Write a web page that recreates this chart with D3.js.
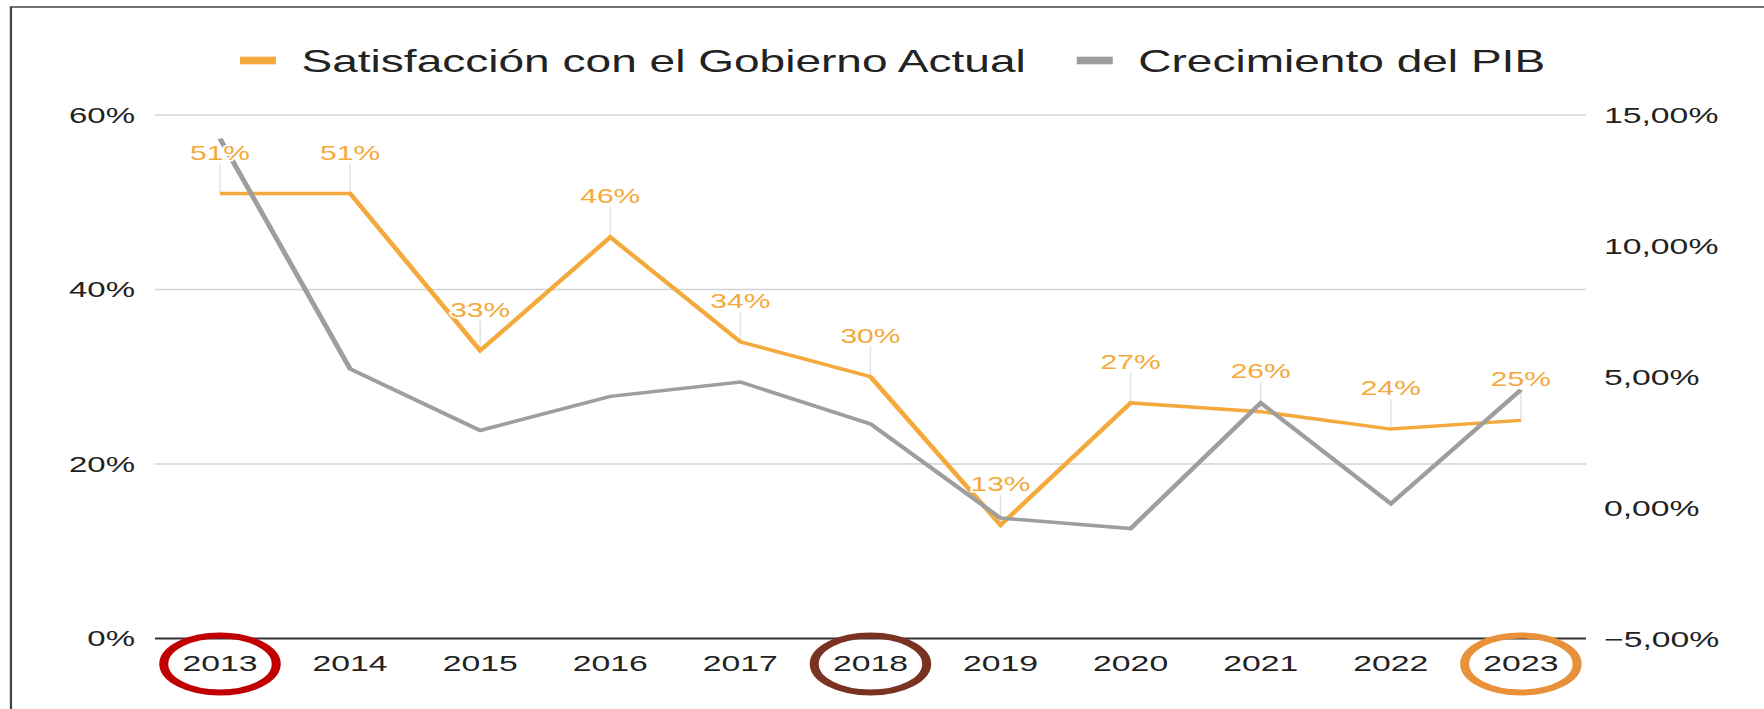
<!DOCTYPE html>
<html>
<head>
<meta charset="utf-8">
<script src="https://cdn.jsdelivr.net/npm/d3@7"></script>
<style>
  html, body { margin: 0; padding: 0; background: #fff; }
  text { font-family: "Liberation Sans", Arial, sans-serif; }
</style>
</head>
<body>
<div id="chart"></div>
<script>
// data
var years = ["2013", "2014", "2015", "2016", "2017", "2018", "2019", "2020", "2021", "2022", "2023"];
var satisfaccion = [51, 51, 33, 46, 34, 30, 13, 27, 26, 24, 25];
var pib = [14.1, 5.3, 2.95, 4.25, 4.8, 3.2, -0.4, -0.8, 4.0, 0.15, 4.5];
var leftTicks = [0, 20, 40, 60];
var rightTicks = [-5, 0, 5, 10, 15];
var seriesNames = ["Satisfacción con el Gobierno Actual", "Crecimiento del PIB"];
var circled = [["2013", "#c00000"], ["2018", "#7a3322"], ["2023", "#e8913a"]];

var ORANGE = "#f4a93c", GREY = "#9e9e9e";

// the original picture is stretched sideways, so draw narrow and stretch
var stretch = 1.5;
var width = 1764, height = 709;
var vw = width / stretch;

var svg = d3.select("#chart")
  .append("svg")
  .attr("width", width)
  .attr("height", height)
  .attr("viewBox", "0 0 " + vw + " " + height)
  .attr("preserveAspectRatio", "none");

// frame (cut off on the right and bottom)
svg.append("rect")
  .attr("x", 7.3).attr("y", 7)
  .attr("width", vw + 20).attr("height", height + 20)
  .attr("fill", "none")
  .attr("stroke", "#444")
  .attr("stroke-width", 1.5);

var plotL = 103.3, plotR = 1057.3, plotT = 115, plotB = 638.5;

var x = d3.scalePoint().domain(years).range([plotL, plotR]).padding(0.5);
var yL = d3.scaleLinear().domain([0, 60]).range([plotB, plotT]);
var yR = d3.scaleLinear().domain([-5, 15]).range([plotB, plotT]);

var esLocale = d3.formatLocale({ decimal: ",", thousands: ".", grouping: [3], currency: ["", "€"] });
var fmtR = esLocale.format(".2f");

// gridlines
svg.append("g")
  .selectAll("line")
  .data(leftTicks.filter(function(d) { return d > 0; }))
  .enter()
  .append("line")
  .attr("x1", plotL).attr("x2", plotR)
  .attr("y1", function(d) { return yL(d); })
  .attr("y2", function(d) { return yL(d); })
  .attr("stroke", "#d3d3d3")
  .attr("stroke-width", 1.5);

svg.append("line")
  .attr("x1", plotL).attr("x2", plotR)
  .attr("y1", yL(0)).attr("y2", yL(0))
  .attr("stroke", "#333")
  .attr("stroke-width", 2);

// left axis labels
svg.append("g")
  .selectAll("text")
  .data(leftTicks)
  .enter()
  .append("text")
  .attr("x", 90)
  .attr("y", function(d) { return yL(d); })
  .attr("dy", "0.36em")
  .attr("text-anchor", "end")
  .attr("font-size", 22)
  .attr("fill", "#222")
  .text(function(d) { return d + "%"; });

// right axis labels
svg.append("g")
  .selectAll("text")
  .data(rightTicks)
  .enter()
  .append("text")
  .attr("x", 1069.3)
  .attr("y", function(d) { return yR(d); })
  .attr("dy", "0.36em")
  .attr("text-anchor", "start")
  .attr("font-size", 22.5)
  .attr("fill", "#222")
  .text(function(d) { return fmtR(d) + "%"; });

// x labels
svg.append("g")
  .selectAll("text")
  .data(years)
  .enter()
  .append("text")
  .attr("x", function(d) { return x(d); })
  .attr("y", 671.5)
  .attr("text-anchor", "middle")
  .attr("font-size", 22.5)
  .attr("fill", "#222")
  .text(function(d) { return d; });

// circles round some years
svg.append("g")
  .selectAll("ellipse")
  .data(circled)
  .enter()
  .append("ellipse")
  .attr("cx", function(d) { return x(d[0]); })
  .attr("cy", 664)
  .attr("rx", 37.5)
  .attr("ry", 28.5)
  .attr("fill", "none")
  .attr("stroke", function(d) { return d[1]; })
  .attr("stroke-width", 6);

// leader lines for the labels
svg.append("g")
  .selectAll("line")
  .data(satisfaccion)
  .enter()
  .append("line")
  .attr("x1", function(d, i) { return x(years[i]); })
  .attr("x2", function(d, i) { return x(years[i]); })
  .attr("y1", function(d) { return yL(d); })
  .attr("y2", function(d) { return yL(d) - 30; })
  .attr("stroke", "#e2e2e2")
  .attr("stroke-width", 1);

var lineL = d3.line()
  .x(function(d, i) { return x(years[i]); })
  .y(function(d) { return yL(d); });
var lineR = d3.line()
  .x(function(d, i) { return x(years[i]); })
  .y(function(d) { return yR(d); });

svg.append("path")
  .attr("d", lineL(satisfaccion))
  .attr("fill", "none")
  .attr("stroke", ORANGE)
  .attr("stroke-width", 3.5)
  .attr("stroke-linejoin", "miter");

svg.append("path")
  .attr("d", lineR(pib))
  .attr("fill", "none")
  .attr("stroke", GREY)
  .attr("stroke-width", 3.5)
  .attr("stroke-linejoin", "miter");

// value labels
svg.append("g")
  .selectAll("text")
  .data(satisfaccion)
  .enter()
  .append("text")
  .attr("x", function(d, i) { return x(years[i]); })
  .attr("y", function(d) { return yL(d) - 34; })
  .attr("text-anchor", "middle")
  .attr("font-size", 20)
  .attr("fill", ORANGE)
  .attr("stroke", "#fff")
  .attr("stroke-width", 3)
  .attr("paint-order", "stroke")
  .text(function(d) { return d + "%"; });

// legend
var legend = svg.append("g");
var lx = 160;
seriesNames.forEach(function(name, i) {
  legend.append("rect")
    .attr("x", lx).attr("y", 56.7)
    .attr("width", 24).attr("height", 7.6)
    .attr("fill", i == 0 ? ORANGE : GREY);
  var t = legend.append("text")
    .attr("x", lx + 41)
    .attr("y", 71.7)
    .attr("font-size", 30.7)
    .attr("fill", "#222")
    .text(name);
  lx = lx + 41 + t.node().getComputedTextLength() + 34;
});
</script>
</body>
</html>
